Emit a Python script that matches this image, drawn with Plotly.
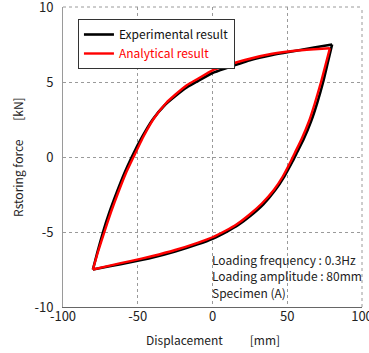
import plotly.graph_objects as go

# Experimental result (black) - loading branch (from -80 to +80)
exp_up_x = [-80, -77, -73.2, -69, -64, -59, -54, -47, -40, -32, -25, -17, -10, 0, 10, 25, 40, 55, 68, 80]
exp_up_y = [-7.5, -6.35, -5.0, -3.7, -2.35, -1.1, 0.0, 1.35, 2.5, 3.45, 4.05, 4.65, 5.05, 5.6, 5.95, 6.45, 6.8, 7.07, 7.3, 7.5]
# Experimental result - unloading branch (from +80 to -80)
exp_dn_x = [80, 77, 74, 70, 66, 61, 56.5, 53.5, 48, 42, 34, 25, 17, 10, 0, -10, -25, -40, -55, -68, -80]
exp_dn_y = [7.5, 6.25, 5.0, 3.6, 2.4, 1.2, 0.3, -0.3, -1.3, -2.2, -3.15, -3.95, -4.55, -4.95, -5.45, -5.82, -6.3, -6.7, -7.02, -7.27, -7.5]

# Analytical result (red) - loading branch
ana_up_x = [-80, -76.5, -72.3, -68, -63, -58, -52.8, -46, -39, -31, -25, -17, -10, 0, 10, 25, 40, 55, 68, 78.5]
ana_up_y = [-7.5, -6.3, -5.0, -3.7, -2.35, -1.1, 0.0, 1.4, 2.6, 3.6, 4.15, 4.8, 5.2, 5.78, 6.12, 6.55, 6.88, 7.08, 7.18, 7.25]
# Analytical result - unloading branch
ana_dn_x = [78.5, 75.5, 72.6, 68.5, 64.6, 59.6, 55.2, 52.3, 47, 41, 33, 24, 16, 9, 0, -10, -25, -40, -55, -68, -80]
ana_dn_y = [7.25, 6.1, 5.0, 3.6, 2.4, 1.2, 0.3, -0.3, -1.3, -2.2, -3.1, -3.9, -4.5, -4.9, -5.35, -5.72, -6.2, -6.6, -6.94, -7.22, -7.5]

x_ticks = [-100, -50, 0, 50, 100]
y_ticks = [-10, -5, 0, 5, 10]
notes = ["Loading frequency : 0.3Hz", "Loading amplitude : 80mm", "Specimen (A)"]

FONT = "Noto Sans CJK JP, DejaVu Sans, sans-serif"
GRID = "#9a9a9a"

fig = go.Figure()
line_kw = dict(shape="spline", smoothing=0.5)
fig.add_trace(go.Scatter(x=exp_up_x, y=exp_up_y, mode="lines", name="Experimental result",
                         legendgroup="exp", line=dict(color="black", width=2.6, **line_kw)))
fig.add_trace(go.Scatter(x=exp_dn_x, y=exp_dn_y, mode="lines", name="Experimental result",
                         legendgroup="exp", showlegend=False, line=dict(color="black", width=2.6, **line_kw)))
fig.add_trace(go.Scatter(x=ana_up_x, y=ana_up_y, mode="lines",
                         name="<span style='color:#ff0000'>Analytical result</span>",
                         legendgroup="ana", line=dict(color="#ff0000", width=2.4, **line_kw)))
fig.add_trace(go.Scatter(x=ana_dn_x, y=ana_dn_y, mode="lines", name="Analytical result",
                         legendgroup="ana", showlegend=False, line=dict(color="#ff0000", width=2.4, **line_kw)))

for i, t in enumerate(notes):
    fig.add_annotation(text=t, xref="paper", yref="paper", x=0.49, y=0.157 - i * 0.0535,
                       xanchor="left", yanchor="middle", showarrow=False,
                       font=dict(family=FONT, size=12, color="#222"))

# axis titles
fig.add_annotation(text="Displacement\u00a0\u00a0\u00a0\u00a0\u00a0\u00a0\u00a0\u00a0\u00a0\u00a0[mm]",
                   xref="paper", yref="paper", x=0.5, y=-0.108, xanchor="center", yanchor="middle",
                   showarrow=False, font=dict(family=FONT, size=12, color="#222"))
fig.add_annotation(text="Rstoring force\u00a0\u00a0\u00a0\u00a0\u00a0\u00a0\u00a0[kN]",
                   xref="paper", yref="paper", x=-0.154, y=0.5, xanchor="center", yanchor="middle",
                   textangle=-90, showarrow=False, font=dict(family=FONT, size=12, color="#222"))

# frame: top and right edges drawn as light dotted lines
fig.add_shape(type="line", xref="paper", yref="paper", x0=0, x1=1, y0=1, y1=1,
              line=dict(color=GRID, width=1, dash="dot"))
fig.add_shape(type="line", xref="paper", yref="paper", x0=1, x1=1, y0=0, y1=1,
              line=dict(color=GRID, width=1, dash="dot"))

fig.update_layout(
    width=369, height=353,
    margin=dict(l=63, r=7, t=7, b=46, autoexpand=False),
    paper_bgcolor="white", plot_bgcolor="white",
    font=dict(family=FONT, size=13, color="#222"),
    showlegend=True,
    legend=dict(x=0.05, y=0.96, xanchor="left", yanchor="top",
                bgcolor="white", bordercolor="#333", borderwidth=1,
                font=dict(family=FONT, size=12, color="#111"),
                tracegroupgap=0, itemwidth=30),
    xaxis=dict(range=[-100, 100], tickvals=x_ticks, ticktext=[str(v) for v in x_ticks],
               showgrid=True, gridcolor=GRID, griddash="dot", gridwidth=1,
               zeroline=False, showline=True, linecolor="#666", linewidth=1,
               ticks="", ticklabelstandoff=-3, ticklabeloverflow="allow", automargin=False),
    yaxis=dict(range=[-10, 10], tickvals=y_ticks, ticktext=[str(v) for v in y_ticks],
               showgrid=True, gridcolor=GRID, griddash="dot", gridwidth=1,
               zeroline=False, showline=True, linecolor=GRID, linewidth=1,
               ticks="", ticklabelstandoff=6, ticklabeloverflow="allow", automargin=False),
)

fig.write_html("out.html", config={"displayModeBar": False},
               post_script="document.body.style.margin='0';document.body.style.overflow='hidden';")
